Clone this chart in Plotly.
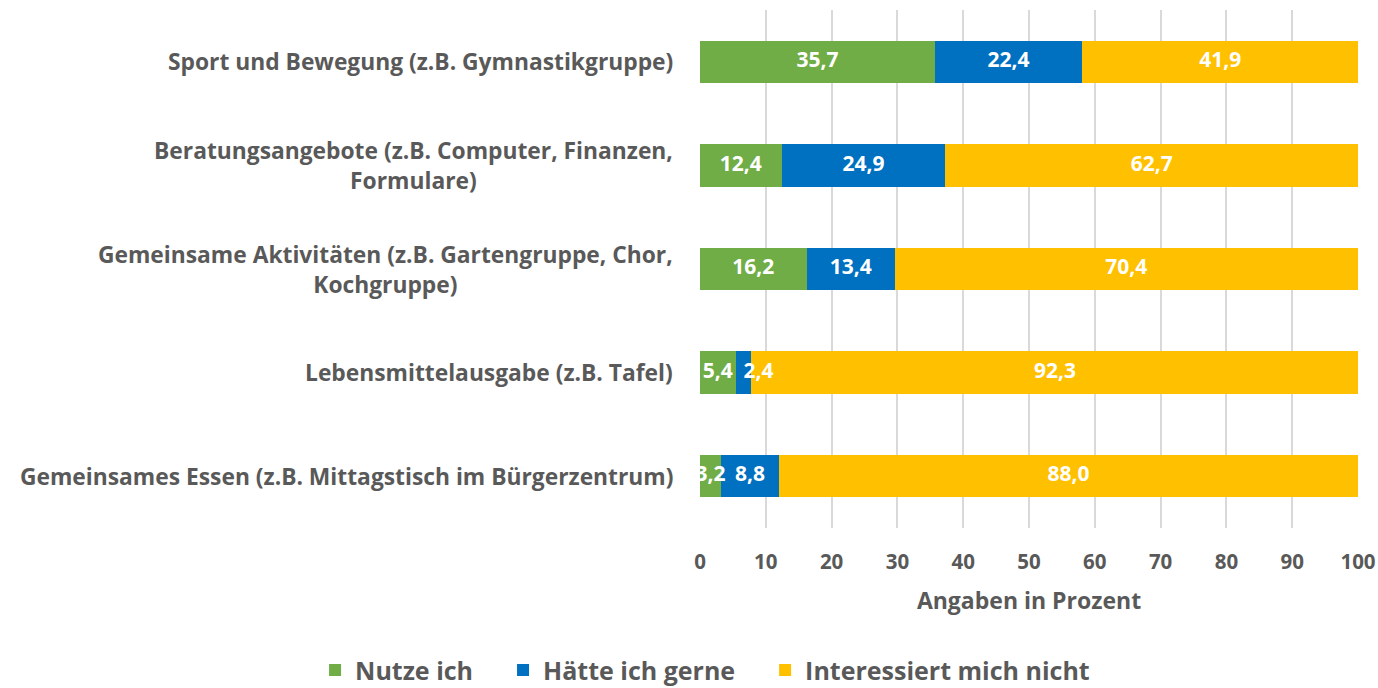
import numpy as np
import plotly.graph_objects as go

categories = [
    "Sport und Bewegung (z.B. Gymnastikgruppe)",
    "Beratungsangebote (z.B. Computer, Finanzen,<br>Formulare)",
    "Gemeinsame Aktivitäten (z.B. Gartengruppe, Chor,<br>Kochgruppe)",
    "Lebensmittelausgabe (z.B. Tafel)",
    "Gemeinsames Essen (z.B. Mittagstisch im Bürgerzentrum)",
]
nutze_ich = [35.7, 12.4, 16.2, 5.4, 3.2]
haette_ich_gerne = [22.4, 24.9, 13.4, 2.4, 8.8]
interessiert_nicht = [41.9, 62.7, 70.4, 92.3, 88.0]
series_names = ["Nutze ich", "Hätte ich gerne", "Interessiert mich nicht"]
x_ticks = list(range(0, 101, 10))

colors = ["#70AD47", "#0070C0", "#FFC000"]
FONT = "Open Sans"
GREY = "#595959"

series = [nutze_ich, haette_ich_gerne, interessiert_nicht]

fig = go.Figure()
for i, (name, vals, col) in enumerate(zip(series_names, series, colors)):
    # trailing em-space widens the gap between legend entries like the original
    legend_name = name + ("\u2003" if i < len(series_names) - 1 else "")
    fig.add_trace(go.Bar(
        y=categories, x=vals, name=legend_name, orientation="h",
        marker=dict(color=col, line=dict(width=0)),
        textposition="none", hoverinfo="x+y",
    ))

# value labels drawn on top of all bars, centred in each segment
base = np.zeros(len(categories))
for vals in series:
    v = np.array(vals)
    mids = base + v / 2
    positions = ["middle right" if x < 3 else "middle center" for x in vals]
    fig.add_trace(go.Scatter(
        x=mids, y=categories, mode="text", customdata=v,
        texttemplate="%{customdata:.1f}", textposition=positions,
        textfont=dict(family=FONT, size=21, color="white", weight="bold"),
        showlegend=False, hoverinfo="skip", cliponaxis=True,
    ))
    base = base + v

for cat in categories:
    fig.add_annotation(
        x=0, xref="paper", y=cat, yref="y", text=cat, showarrow=False,
        xanchor="right", align="center", xshift=-25,
        font=dict(family=FONT, size=22.8, color=GREY, weight="bold"),
    )

fig.update_layout(
    barmode="stack", bargap=0.59,
    width=1378, height=688,
    margin=dict(l=700, r=20, t=10, b=160, autoexpand=False),
    paper_bgcolor="white", plot_bgcolor="white",
    separators=", ",
    font=dict(family=FONT, color=GREY),
    legend=dict(orientation="h", x=-0.585, xanchor="left", xref="paper",
                y=-0.23, yref="paper", yanchor="top",
                font=dict(family=FONT, size=25, color=GREY, weight="bold"),
                itemwidth=30, traceorder="normal"),
    showlegend=True,
)
fig.update_xaxes(
    range=[0, 100], tickvals=x_ticks, showgrid=True, gridcolor="#D9D9D9", gridwidth=2,
    zeroline=False, showline=False, ticks="", automargin=False,
    ticklabelstandoff=19,
    tickfont=dict(family=FONT, size=20.5, color=GREY, weight="bold"),
    title=dict(text="Angaben in Prozent", font=dict(family=FONT, size=23, color=GREY, weight="bold"), standoff=19),
)
fig.update_yaxes(autorange="reversed", showticklabels=False, ticks="", showgrid=False, automargin=False)

fig.write_html("out.html", config={"displayModeBar": False},
               post_script="document.body.style.margin='0px';")
